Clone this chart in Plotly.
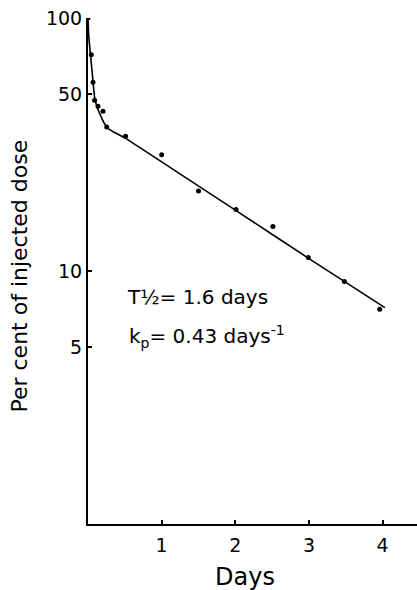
import plotly.graph_objects as go

# Measured points (days, per cent of injected dose)
point_days = [0.0, 0.045, 0.068, 0.09, 0.136, 0.204, 0.254, 0.51, 1.0, 1.5, 2.01, 2.51, 2.99, 3.48, 3.96]
point_pct = [100, 71.6, 55.7, 47.3, 44.8, 42.8, 37.1, 34.1, 28.8, 20.7, 17.5, 15.0, 11.3, 9.08, 7.06]

# Fitted curve
curve_days = [0.0, 0.01, 0.036, 0.068, 0.091, 0.127, 0.172, 0.217, 0.285, 0.4, 0.5, 0.7, 2.0, 3.0, 4.03]
curve_pct = [100, 85, 70.6, 56.2, 48.3, 44.1, 41.1, 38.5, 36.4, 34.8, 33.6, 30.8, 17.4, 11.2, 7.17]

x_ticks = [1, 2, 3, 4]
y_ticks = [5, 10, 50, 100]

FONT = "DejaVu Sans"

fig = go.Figure()
fig.add_trace(go.Scatter(x=curve_days, y=curve_pct, mode="lines",
                         line=dict(color="black", width=1.6, shape="spline", smoothing=0.5),
                         hoverinfo="skip", showlegend=False))
fig.add_trace(go.Scatter(x=point_days, y=point_pct, mode="markers",
                         marker=dict(color="black", size=5),
                         showlegend=False))

fig.update_layout(
    width=417, height=590,
    margin=dict(l=88, r=0, t=18, b=65.5),
    paper_bgcolor="white", plot_bgcolor="white",
    font=dict(family=FONT, color="black"),
    xaxis=dict(range=[0, 4.466], tickvals=x_ticks, ticktext=[str(v) for v in x_ticks],
               ticks="inside", ticklen=4, tickwidth=1.5, tickcolor="black",
               showline=True, linecolor="black", linewidth=2, showgrid=False,
               zeroline=False, tickfont=dict(size=19), ticklabelstandoff=3),
    yaxis=dict(type="log", range=[0, 2], tickvals=y_ticks, ticktext=[str(v) for v in y_ticks],
               ticks="inside", ticklen=4, tickwidth=1.5, tickcolor="black",
               showline=True, linecolor="black", linewidth=2, showgrid=False,
               zeroline=False, tickfont=dict(size=19), ticklabelstandoff=0),
    annotations=[
        dict(text="Days", xref="paper", yref="paper", x=0.477, y=-0.1057,
             showarrow=False, font=dict(size=24), xanchor="center", yanchor="middle"),
        dict(text="Per cent of injected dose", xref="paper", yref="paper", x=-0.2067, y=0.491,
             textangle=-90, showarrow=False, font=dict(size=22), xanchor="center", yanchor="middle"),
        dict(text="T½= 1.6 days", xref="x", yref="y", x=0.50, y=0.896,
             showarrow=False, font=dict(size=20), xanchor="left", yanchor="middle"),
        dict(text="k<sub>p</sub>= 0.43 days<sup>-1</sup>", xref="x", yref="y", x=0.53, y=0.742,
             showarrow=False, font=dict(size=20), xanchor="left", yanchor="middle"),
    ],
)

fig.write_html("out.html", config={"displayModeBar": False},
               post_script="document.body.style.margin='0';document.body.style.overflow='hidden';")
